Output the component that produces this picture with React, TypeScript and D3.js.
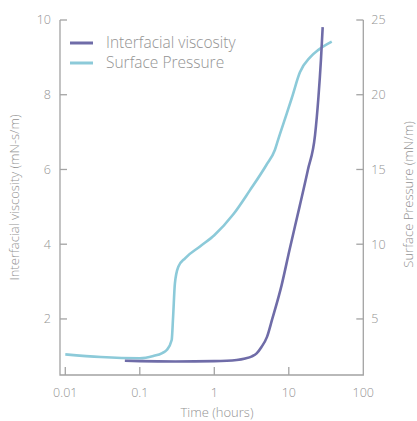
import React, { useRef, useEffect } from 'react';
import * as d3 from 'd3';

// Interfacial viscosity (mN-s/m) vs time (hours)
const viscosityHours = [0.063, 0.1, 0.3, 1, 2, 2.6, 3.2, 3.7, 4.3, 5.1, 6, 8, 10.2, 14, 18, 22.5, 25, 27, 28.5];
const viscosityValues = [0.88, 0.87, 0.86, 0.87, 0.9, 0.94, 1.0, 1.08, 1.25, 1.52, 2.0, 2.9, 3.84, 5.02, 5.98, 6.92, 7.94, 8.93, 9.81];

// Surface pressure (mN/m) vs time (hours)
const pressureHours = [0.01, 0.03, 0.1, 0.152, 0.2, 0.23, 0.268, 0.28, 0.296, 0.329, 0.405, 0.643, 1, 1.8, 3, 5, 6.5, 7.2, 9.4, 11, 14.1, 19.3, 25, 37.7];
const pressureValues = [2.63, 2.45, 2.37, 2.52, 2.72, 2.92, 3.59, 5.15, 7.38, 8.49, 9.06, 9.85, 10.6, 12.0, 13.6, 15.3, 16.3, 17.0, 18.75, 19.8, 21.5, 22.5, 23.0, 23.55];

const xTicks = [0.01, 0.1, 1, 10, 100];
const xTickLabels = ['0.01', '0.1', '1', '10', '100'];
const leftTicks = [2, 4, 6, 8, 10];
const rightTicks = [5, 10, 15, 20, 25];

const seriesNames = ['Interfacial viscosity', 'Surface Pressure'];
const colors = ['#6f6ca8', '#8ccad9'];

const App = () => {
  const svgRef = useRef<SVGSVGElement>(null);
  const width = 417;
  const height = 421;

  useEffect(() => {
    const svg = d3.select(svgRef.current);
    svg.selectAll('*').remove();

    const left = 60, right = 363.3, top = 20, bottom = 375;
    const axisColor = '#a3a3a3';
    const textColor = '#939393';
    const font = '"Open Sans", sans-serif';

    const x = d3.scaleLog().domain([0.00849, 100]).range([left, right]);
    const yL = d3.scaleLinear().domain([0.5, 10]).range([bottom, top]);
    const yR = d3.scaleLinear().domain([1.25, 25]).range([bottom, top]);

    const g = svg.append('g')
      .attr('font-family', font)
      .attr('font-weight', 350)
      .attr('fill', textColor);

    // axes lines
    g.append('path')
      .attr('d', `M${left},${top}V${bottom}H${right}V${top}`)
      .attr('fill', 'none')
      .attr('stroke', axisColor)
      .attr('stroke-width', 1.3);

    // left ticks
    leftTicks.forEach(t => {
      g.append('line')
        .attr('x1', left).attr('x2', left + 7)
        .attr('y1', yL(t)).attr('y2', yL(t))
        .attr('stroke', axisColor).attr('stroke-width', 1.3);
      g.append('text')
        .attr('x', left - 9).attr('y', yL(t)).attr('dy', '0.35em')
        .attr('text-anchor', 'end')
        .attr('font-size', 12.5)
        .text(t);
    });

    // right ticks
    rightTicks.forEach(t => {
      g.append('line')
        .attr('x1', right - 7).attr('x2', right)
        .attr('y1', yR(t)).attr('y2', yR(t))
        .attr('stroke', axisColor).attr('stroke-width', 1.3);
      g.append('text')
        .attr('x', right + 8).attr('y', yR(t)).attr('dy', '0.35em')
        .attr('text-anchor', 'start')
        .attr('font-size', 12.5)
        .text(t);
    });

    // bottom ticks
    xTicks.forEach((t, i) => {
      if (i < xTicks.length - 1) {
        g.append('line')
          .attr('x1', x(t)).attr('x2', x(t))
          .attr('y1', bottom).attr('y2', bottom - 8)
          .attr('stroke', axisColor).attr('stroke-width', 1.3);
      }
      g.append('text')
        .attr('x', x(t)).attr('y', bottom + 22)
        .attr('text-anchor', 'middle')
        .attr('font-size', 12.5)
        .text(xTickLabels[i]);
    });

    // axis titles
    g.append('text')
      .attr('x', 217).attr('y', 417)
      .attr('text-anchor', 'middle')
      .attr('font-size', 13)
      .text('Time (hours)');
    g.append('text')
      .attr('transform', `translate(19,${(top + bottom) / 2}) rotate(-90)`)
      .attr('text-anchor', 'middle')
      .attr('font-size', 13)
      .text('Interfacial viscosity (mN-s/m)');
    g.append('text')
      .attr('transform', `translate(413,${(top + bottom) / 2 - 3}) rotate(-90)`)
      .attr('text-anchor', 'middle')
      .attr('font-size', 13)
      .text('Surface Pressure (mN/m)');

    const line = d3.line<[number, number]>().curve(d3.curveMonotoneX);

    const pressurePts = pressureHours.map((h, i) => [x(h), yR(pressureValues[i])] as [number, number]);
    const viscosityPts = viscosityHours.map((h, i) => [x(h), yL(viscosityValues[i])] as [number, number]);

    g.append('path')
      .attr('d', line(pressurePts))
      .attr('fill', 'none')
      .attr('stroke', colors[1])
      .attr('stroke-width', 2.6);

    g.append('path')
      .attr('d', line(viscosityPts))
      .attr('fill', 'none')
      .attr('stroke', colors[0])
      .attr('stroke-width', 2.6);

    // legend
    seriesNames.forEach((name, i) => {
      const ly = 43 + i * 20;
      g.append('line')
        .attr('x1', 70).attr('x2', 93)
        .attr('y1', ly).attr('y2', ly)
        .attr('stroke', colors[i]).attr('stroke-width', 3);
      g.append('text')
        .attr('x', 106).attr('y', ly).attr('dy', '0.35em')
        .attr('font-size', 15.5)
        .text(name);
    });
  }, []);

  return (
    <svg
      ref={svgRef}
      width={width}
      height={height}
      style={{ position: 'absolute', left: 0, top: 0, background: '#fff' }}
    ></svg>
  );
};

export default App;
